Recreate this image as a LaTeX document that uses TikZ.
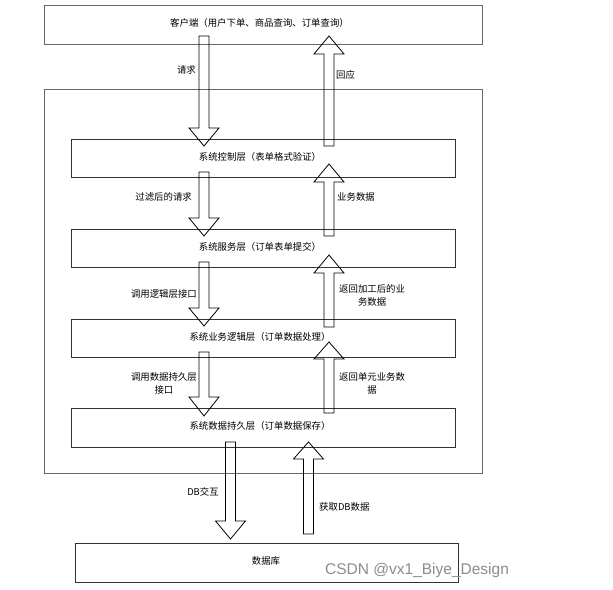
\documentclass[tikz,border=0pt]{standalone}
\usepackage{fontspec}
\setmainfont{Noto Sans CJK SC}
\newfontfamily\wmfont{Liberation Sans}
\begin{document}
\begin{tikzpicture}[x=1bp,y=-1bp,
  font=\fontsize{9.4bp}{13bp}\selectfont,
  outerbox/.style={draw=black!60,line width=0.9bp,rectangle,inner sep=0pt},
  layerbox/.style={draw=black!80,line width=0.9bp,rectangle,inner sep=0pt,minimum width=384bp,minimum height=38bp},
  blockarr/.style={draw=black,line width=0.8bp},
  lbl/.style={inner sep=0pt,align=center}]
\useasboundingbox (0,0) rectangle (613,590);
\newcommand\blockarrow[4]{\draw[blockarr] ({#1-5},#2) -- ({#1+5},#2) -- ({#1+5},#3) -- ({#1+15},#3) -- (#1,#4) -- ({#1-15},#3) -- ({#1-5},#3) -- cycle;}
% boxes
\node[outerbox,minimum width=438bp,minimum height=39bp] (client) at (263,24.5) {};
\node at (259.5,23) (clienttxt) {客户端（用户下单、商品查询、订单查询）};
\node[outerbox,minimum width=438bp,minimum height=384bp] (system) at (263,281) {};
\node[layerbox] (l1) at (263,158) {};
\node at (260,157) (l1t) {系统控制层（表单格式验证）};
\node[layerbox] (l2) at (263,248) {};
\node at (260,247) (l2t) {系统服务层（订单表单提交）};
\node[layerbox] (l3) at (263,338) {};
\node at (260,337) (l3t) {系统业务逻辑层（订单数据处理）};
\node[layerbox,minimum height=39bp] (l4) at (263,427.5) {};
\node at (260,426) (l4t) {系统数据持久层（订单数据保存）};
\node[draw=black!80,line width=0.9bp,rectangle,minimum width=383bp,minimum height=39bp] (db) at (266.5,562.5) {};
\node at (266,561) (dbt) {数据库};
% arrows down
\blockarrow{204}{36}{128}{146}
\blockarrow{204}{172}{218}{236}
\blockarrow{204}{262}{308}{326}
\blockarrow{204}{352}{397}{416}
% arrows up
\blockarrow{329}{146}{54}{36}
\blockarrow{329}{236}{182}{164}
\blockarrow{329}{327}{273}{255}
\blockarrow{329}{413}{359}{342}
% db arrows
\blockarrow{230.5}{442}{521}{539}
\blockarrow{308.5}{534}{459}{442}
% labels
\node[lbl,anchor=east] (a1) at (196,70) {请求};
\node[lbl,anchor=west] (b1) at (336,75) {回应};
\node[lbl,anchor=east] (a2) at (192,197) {过滤后的请求};
\node[lbl,anchor=west] (b2) at (337,197) {业务数据};
\node[lbl,anchor=east] (a3) at (197,294) {调用逻辑层接口};
\node[lbl,anchor=west] (b3) at (339,295) {返回加工后的业\\务数据};
\node[lbl,anchor=east] (a4) at (197,383) {调用数据持久层\\接口};
\node[lbl,anchor=west] (b4) at (339,383) {返回单元业务数\\据};
\node[lbl] (a5) at (203,492) {DB交互};
\node[lbl,anchor=west] (b5) at (319,507) {获取DB数据};
\node[lbl,anchor=west,text=black!45] (wm) at (325,570) {\wmfont\fontsize{15.5bp}{18bp}\selectfont CSDN @vx1\_Biye\_Design};
\end{tikzpicture}
\end{document}
